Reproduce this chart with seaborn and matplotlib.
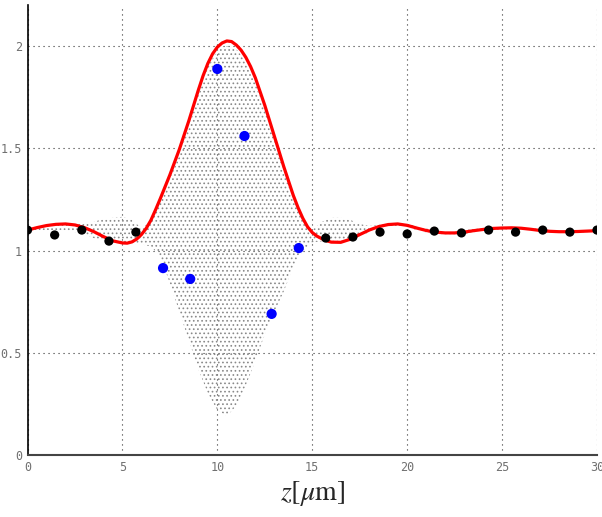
import numpy as np
import pandas as pd
import matplotlib
matplotlib.use("Agg")
import matplotlib.pyplot as plt
import seaborn as sns

# ---- data ----
grid_z = [0, 0.5, 1, 1.5, 2, 2.5, 3, 3.5, 4, 4.5, 5, 5.5, 6, 6.5, 7, 7.5, 8, 8.5, 9, 9.5,
          10, 10.5, 11, 11.5, 12, 12.5, 13, 13.5, 14, 14.5, 15, 15.5, 16, 16.5, 17, 17.5,
          18, 18.5, 19, 19.5, 20, 20.5, 21, 21.5, 22, 22.5, 23, 23.5, 24, 24.5, 25, 25.5,
          26, 26.5, 27, 27.5, 28, 28.5, 29, 29.5, 30]

# red curve (mean intensity), read with finer steps where it bends strongly
red_z = [0, 0.5, 1, 1.5, 2, 2.5, 3, 3.5, 4, 4.5, 5, 5.25, 5.5, 5.75, 6, 6.25, 6.5, 6.75,
         7, 7.5, 8, 8.5, 9, 9.25, 9.5, 9.75, 10, 10.25, 10.5, 10.75, 11, 11.25, 11.5,
         11.75, 12, 12.5, 13, 13.5, 14, 14.25, 14.5, 14.75, 15, 15.25, 15.5, 15.75, 16,
         16.5, 17, 17.5, 18, 18.5, 19, 19.5, 20, 20.5, 21, 21.5, 22, 22.5, 23, 23.5, 24,
         24.5, 25, 25.5, 26, 26.5, 27, 27.5, 28, 28.5, 29, 29.5, 30]
red_curve = [1.100, 1.112, 1.122, 1.128, 1.130, 1.125, 1.112, 1.092, 1.068, 1.047,
             1.037, 1.036, 1.042, 1.056, 1.078, 1.108, 1.148, 1.200,
             1.255, 1.370, 1.495, 1.635, 1.785, 1.855, 1.915, 1.962, 1.995, 2.015,
             2.025, 2.022, 2.005, 1.980, 1.945,
             1.900, 1.845, 1.710, 1.560, 1.410, 1.270, 1.210, 1.158, 1.116, 1.088,
             1.070, 1.058, 1.048, 1.041,
             1.040, 1.055, 1.078, 1.100, 1.117, 1.127, 1.130, 1.123, 1.110, 1.098,
             1.090, 1.086, 1.086, 1.090, 1.097, 1.103, 1.108, 1.110, 1.111, 1.109,
             1.104, 1.098, 1.094, 1.092, 1.092, 1.093, 1.095, 1.097]

# envelope of the fast oscillating (dotted) intensity
osc_upper = [1.100, 1.110, 1.120, 1.125, 1.130, 1.130, 1.130, 1.140, 1.155, 1.160,
             1.165, 1.150, 1.110, 1.140, 1.240, 1.350, 1.470, 1.610, 1.760, 1.900,
             1.980, 2.000, 1.985, 1.925, 1.820, 1.690, 1.540, 1.390, 1.250, 1.150,
             1.100, 1.140, 1.160, 1.160, 1.150, 1.130, 1.120, 1.125, 1.135, 1.135,
             1.130, 1.120, 1.108, 1.100, 1.096, 1.096, 1.100, 1.105, 1.110, 1.115,
             1.117, 1.118, 1.116, 1.111, 1.105, 1.100, 1.098, 1.098, 1.099, 1.100,
             1.100]
osc_lower = [1.100, 1.100, 1.100, 1.100, 1.100, 1.090, 1.080, 1.060, 1.050, 1.040,
             1.035, 1.030, 1.030, 1.020, 0.970, 0.840, 0.700, 0.560, 0.420, 0.300,
             0.220, 0.190, 0.240, 0.340, 0.460, 0.590, 0.700, 0.800, 0.920, 1.000,
             1.040, 1.045, 1.040, 1.045, 1.055, 1.070, 1.090, 1.100, 1.115, 1.120,
             1.115, 1.100, 1.088, 1.080, 1.076, 1.076, 1.080, 1.089, 1.096, 1.101,
             1.103, 1.104, 1.102, 1.097, 1.091, 1.088, 1.086, 1.086, 1.087, 1.090,
             1.094]

# sampled points
pt_z = [0, 1.43, 2.86, 4.29, 5.71, 7.14, 8.57, 10, 11.43, 12.86, 14.29,
        15.71, 17.14, 18.57, 20, 21.43, 22.86, 24.29, 25.71, 27.14, 28.57, 30]
pt_val = [1.100, 1.076, 1.100, 1.046, 1.090, 0.914, 0.861, 1.888, 1.560, 0.690, 1.012,
          1.061, 1.066, 1.090, 1.081, 1.095, 1.086, 1.100, 1.090, 1.100, 1.090, 1.100]
pt_group = ["out"] * 5 + ["in"] * 6 + ["out"] * 11

x_ticks = [0, 5, 10, 15, 20, 25, 30]
y_ticks = [0, 0.5, 1, 1.5, 2]
y_labels = ["0", "0.5", "1", "1.5", "2"]

# ---- plot ----
sns.set_style("white")
plt.rcParams["hatch.linewidth"] = 0.7
plt.rcParams["font.family"] = ["DejaVu Sans"]
plt.rcParams["mathtext.fontset"] = "stix"

fig = plt.figure(figsize=(6.02, 5.17), dpi=100)
ax = fig.add_axes([0.0457, 0.12, 0.9460, 0.870])

ax.fill_between(grid_z, osc_lower, osc_upper, facecolor="none",
                edgecolor="#8a8a8a", hatch="....", linewidth=0, zorder=1)

curve_df = pd.DataFrame({"z": red_z, "I": red_curve})
sns.lineplot(data=curve_df, x="z", y="I", color="#ff0000", linewidth=2.3,
             ax=ax, zorder=3)

pts_df = pd.DataFrame({"z": pt_z, "I": pt_val, "g": pt_group})
sns.scatterplot(data=pts_df, x="z", y="I", hue="g", size="g",
                palette={"out": "#000000", "in": "#0000ff"},
                sizes={"out": 44, "in": 54},
                edgecolor="none", legend=False, ax=ax, zorder=4)

ax.set_xlim(0, 30)
ax.set_ylim(0, 2.2)
ax.set_xticks(x_ticks)
ax.set_xticklabels([str(t) for t in x_ticks])
ax.set_yticks(y_ticks)
ax.set_yticklabels(y_labels)
ax.grid(True, linestyle=(0, (1, 3.5)), color="#333333", linewidth=0.8)
ax.set_axisbelow(True)

for s in ["top", "right"]:
    ax.spines[s].set_visible(False)
ax.spines["left"].set_color("black")
ax.spines["bottom"].set_color("#444444")
ax.spines["left"].set_linewidth(1.2)
ax.spines["bottom"].set_linewidth(1.5)

ax.tick_params(direction="in", length=4, width=1, colors="black",
               labelcolor="#707070", labelsize=8.5, pad=4)
for lbl in ax.get_xticklabels() + ax.get_yticklabels():
    lbl.set_family(["DejaVu Sans Mono"])

ax.set_xlabel(r"$z[\mu\mathrm{m}]$", fontsize=20, labelpad=4)
ax.set_ylabel("")

fig.savefig("out.png", dpi=100)
